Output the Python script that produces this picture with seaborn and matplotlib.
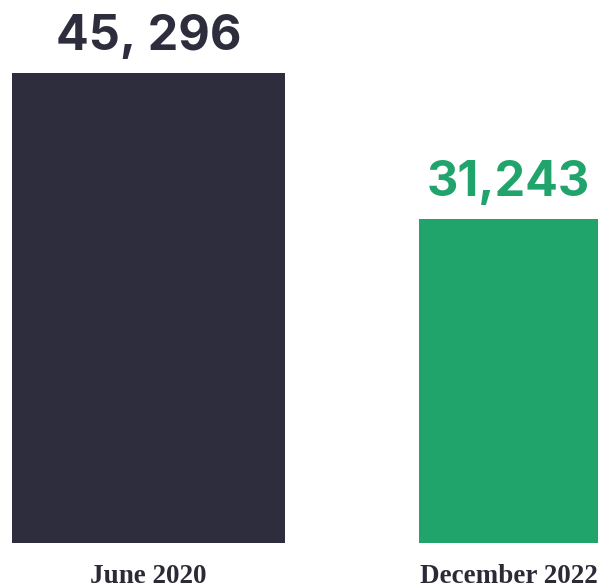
import matplotlib
matplotlib.use("Agg")
import matplotlib.pyplot as plt
import seaborn as sns
import pandas as pd

categories = ["June 2020", "December 2022"]
values = [45296, 31243]
value_labels = ["45, 296", "31,243"]
bar_colors = ["#2e2d3e", "#21a36c"]
bar_widths = [0.758, 0.497]

sns.set_theme(style="white")
plt.rcParams['font.family'] = ['DejaVu Sans']

fig = plt.figure(figsize=(6.13, 5.88), dpi=100)
ax = fig.add_axes([0, 0, 1, 1])
df = pd.DataFrame({"cat": categories, "val": values})
sns.barplot(data=df, x="cat", y="val", hue="cat", palette=bar_colors,
            legend=False, ax=ax, saturation=1, width=0.6)

for i, p in enumerate(ax.patches):
    w = bar_widths[i]
    p.set_x(i - w / 2)
    p.set_width(w)
    p.set_edgecolor("none")

ax.set_xlim(-0.4125, 1.290)
ax.set_ylim(-4337, 52331)

for i, (v, lab, c) in enumerate(zip(values, value_labels, bar_colors)):
    ax.annotate(lab, xy=(i, v), xytext=(0, 9), textcoords="offset points",
                ha="center", va="bottom", fontsize=35, fontweight="bold",
                color=c, family="Inter")
    ax.annotate(categories[i], xy=(i, 0), xytext=(0, -15), textcoords="offset points",
                ha="center", va="top", fontsize=19.5, fontweight="bold",
                color="#2b2b38", family="Liberation Serif")

ax.set_axis_off()
fig.savefig("out.png", dpi=100)
